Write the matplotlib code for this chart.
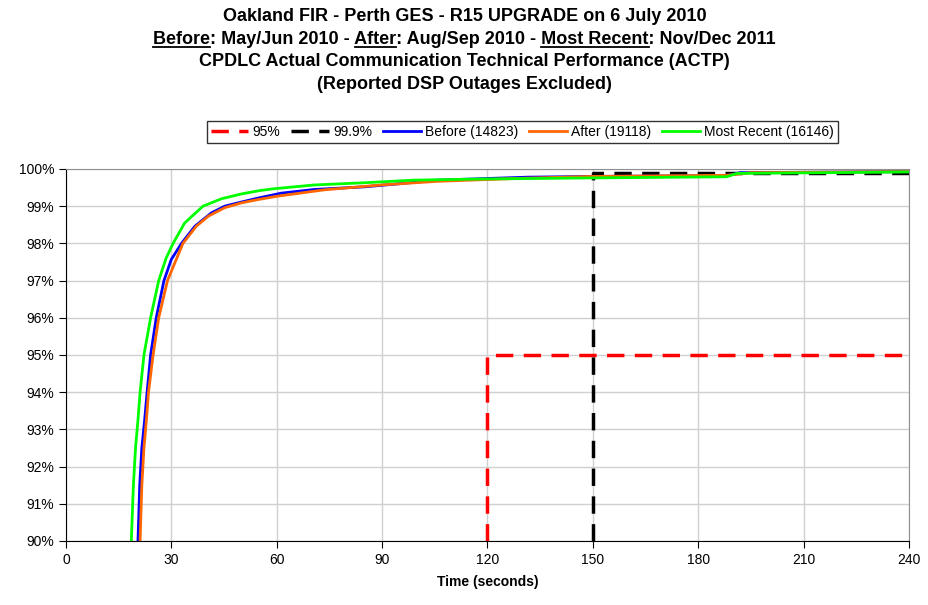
import numpy as np
import matplotlib
matplotlib.use("Agg")
import matplotlib.pyplot as plt
from matplotlib.ticker import FuncFormatter
from matplotlib.lines import Line2D

plt.rcParams['font.family'] = ['Liberation Sans', 'DejaVu Sans']

# cumulative % of messages delivered vs time (seconds)
before_t = [20.5, 21.0, 21.6, 22.4, 23.1, 24.1, 25.7, 27.9, 30.0, 32.9, 36.7, 41.4,
            45.2, 49.0, 54.8, 61.3, 70.8, 85.0, 94.5, 105.8, 131.5, 150, 188, 192, 240]
before_p = [90, 91.5, 92.5, 93.25, 94, 95, 96, 97, 97.57, 98, 98.46, 98.82,
            99.0, 99.09, 99.22, 99.35, 99.45, 99.52, 99.6, 99.7, 99.78, 99.8, 99.82, 99.9, 99.93]

after_t = [21.1, 21.6, 22.2, 22.9, 23.5, 24.8, 26.4, 28.9, 33.3, 37.1, 40.5, 45.2,
           50.0, 54.8, 60.3, 73.6, 89.7, 106, 130, 150, 188, 195, 240]
after_p = [90, 91.5, 92.5, 93.25, 94, 95, 96, 97, 98, 98.46, 98.73, 98.96,
           99.09, 99.18, 99.27, 99.44, 99.57, 99.67, 99.75, 99.8, 99.83, 99.9, 99.93]

recent_t = [18.6, 19.2, 19.8, 20.5, 21.1, 22.2, 24.1, 26.4, 28.5, 30.5, 33.8, 39.0,
            44.3, 50.0, 55.2, 59.3, 70.7, 85, 99, 118, 150, 188, 191, 240]
recent_p = [90, 91.5, 92.5, 93.25, 94, 95, 96, 97, 97.6, 98, 98.55, 99.0,
            99.2, 99.33, 99.42, 99.47, 99.57, 99.63, 99.7, 99.73, 99.76, 99.79, 99.88, 99.92]

# requirement lines: (time, percent)
req95_t = [120, 120, 240]
req95_p = [90, 95, 95]
req999_t = [150, 150, 240]
req999_p = [90, 99.9, 99.9]

labels = ['95%', '99.9%', 'Before (14823)', 'After (19118)', 'Most Recent (16146)']
x_ticks = [0, 30, 60, 90, 120, 150, 180, 210, 240]
y_ticks = [90, 91, 92, 93, 94, 95, 96, 97, 98, 99, 100]

fig = plt.figure(figsize=(9.29, 6.05), dpi=100)
ax = fig.add_axes([0.071, 0.1058, 0.9075, 0.6149])

ax.plot(req95_t, req95_p, color='#FF0000', lw=2.5, dashes=(5, 3), label=labels[0])
ax.plot(req999_t, req999_p, color='#000000', lw=2.5, dashes=(5, 3), label=labels[1])
ax.plot(before_t, before_p, color='#0000FF', lw=2, label=labels[2])
ax.plot(after_t, after_p, color='#FF6600', lw=2, label=labels[3])
ax.plot(recent_t, recent_p, color='#00FF00', lw=2, label=labels[4])

ax.set_xlim(0, 240)
ax.set_ylim(90, 100)
ax.set_xticks(x_ticks)
ax.set_yticks(y_ticks)
ax.yaxis.set_major_formatter(FuncFormatter(lambda v, p: '%d%%' % v))
ax.tick_params(direction='out', length=5, labelsize=10, colors='black')
ax.grid(True, color='#d0d0d0', lw=1)
ax.set_axisbelow(True)
for s in ['top', 'right']:
    ax.spines[s].set_color('#909090')
for s in ['left', 'bottom']:
    ax.spines[s].set_color('black')
ax.set_xlabel('Time (seconds)', fontsize=10, fontweight='bold', labelpad=6)

leg = fig.legend(loc='center', bbox_to_anchor=(0.562, 0.782), ncol=5, fontsize=10,
                 frameon=True, fancybox=False, edgecolor='black', handlelength=2.7,
                 handletextpad=0.3, columnspacing=0.8, borderpad=0.3)
leg.get_frame().set_linewidth(1)

# title, four lines, second one with underlined words
title_lines = ['Oakland FIR - Perth GES - R15 UPGRADE on 6 July 2010',
               'Before: May/Jun 2010 - After: Aug/Sep 2010 - Most Recent: Nov/Dec 2011',
               'CPDLC Actual Communication Technical Performance (ACTP)',
               '(Reported DSP Outages Excluded)']
baselines = [21, 43.5, 66, 89]
tsize = 13
tprops = dict(fontsize=tsize, fontweight='bold', ha='center', va='baseline')
texts = []
for line, b in zip(title_lines, baselines):
    texts.append(fig.text(0.5, 1 - b / 605, line, **tprops))

fig.canvas.draw()
r = fig.canvas.get_renderer()
full = texts[1].get_window_extent(r)


def text_width(s):
    t = fig.text(0, 0, s, fontsize=tsize, fontweight='bold')
    w = t.get_window_extent(r).width
    t.remove()
    return w


line2 = title_lines[1]
for word in ['Before', 'After', 'Most Recent']:
    i = line2.index(word)
    x0 = full.x0 + text_width(line2[:i]) if i > 0 else full.x0
    x1 = full.x0 + text_width(line2[:i + len(word)])
    yb = 605 - 46.5
    fig.add_artist(Line2D([x0 / 929, x1 / 929], [yb / 605, yb / 605],
                          color='black', lw=1.3, transform=fig.transFigure))

fig.savefig('out.png', dpi=100)
